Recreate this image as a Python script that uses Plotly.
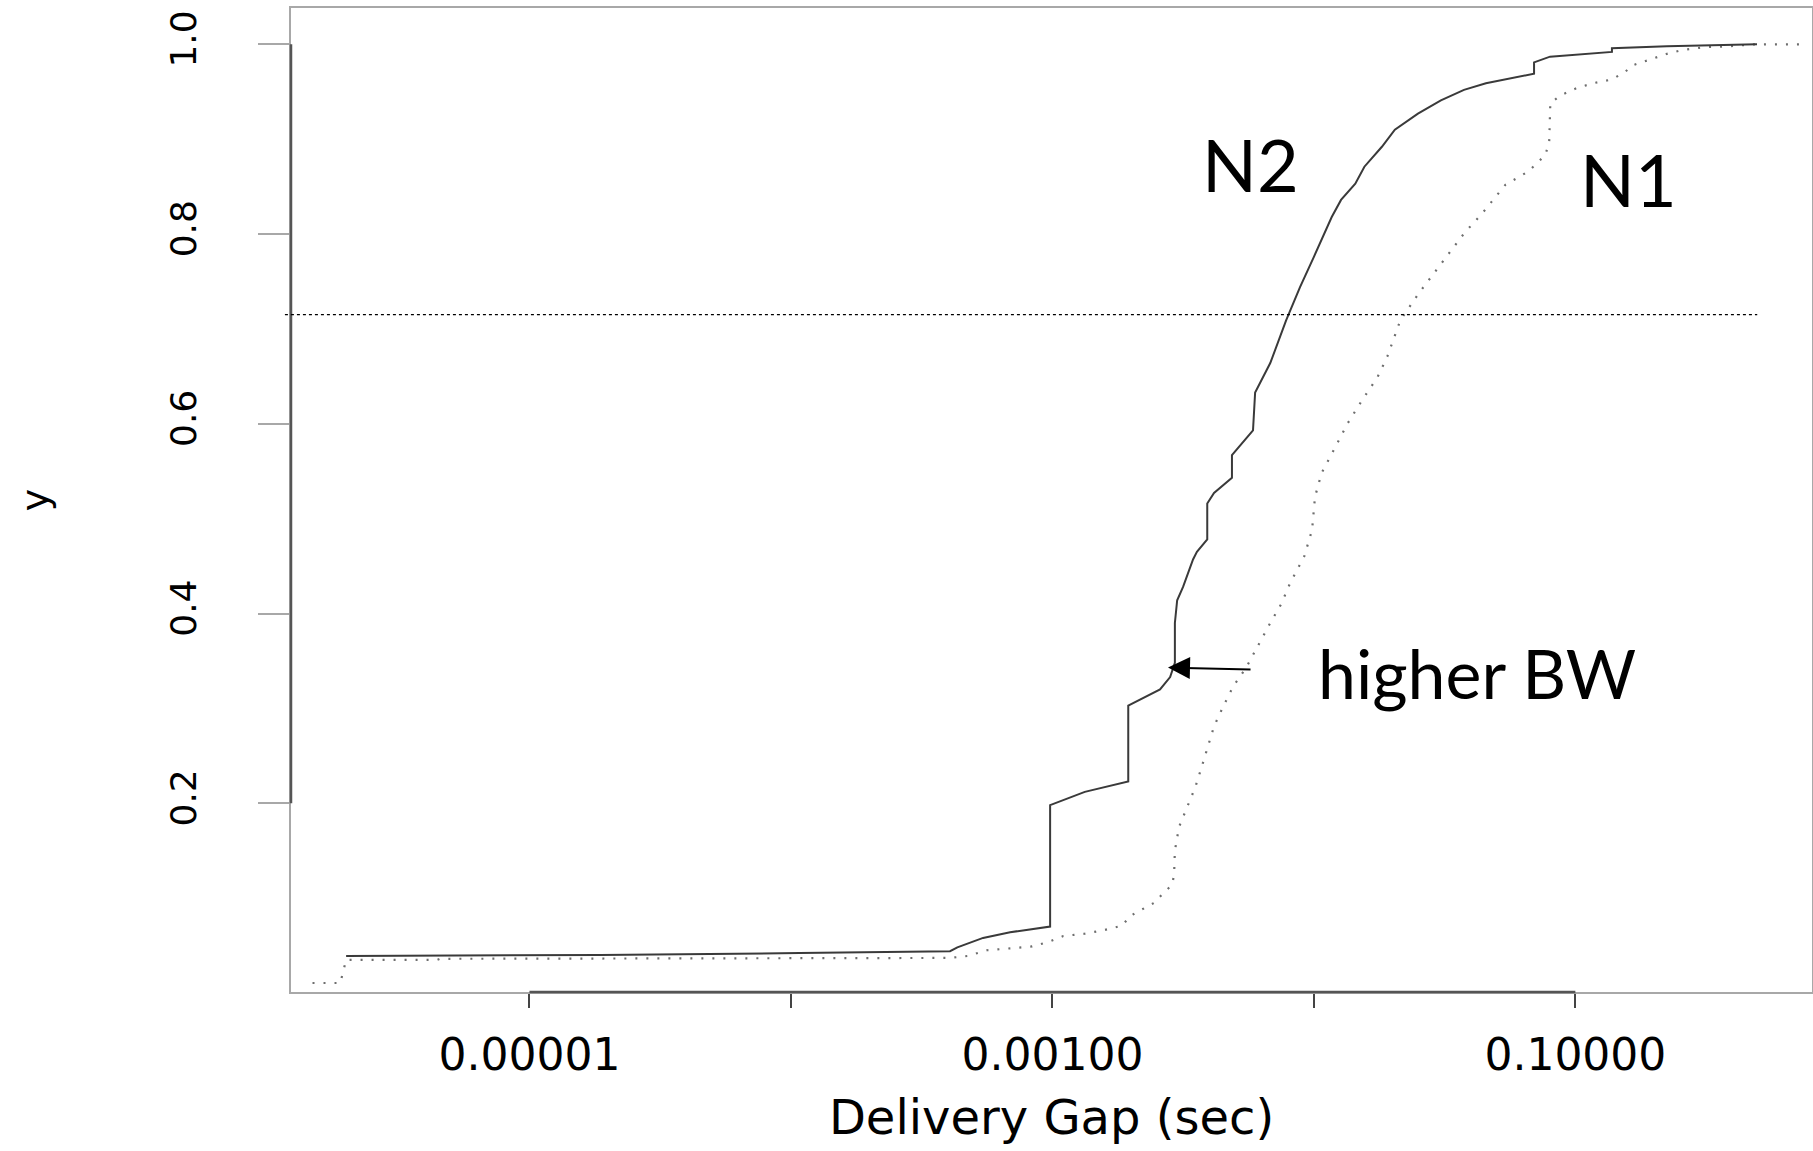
import numpy as np
import plotly.graph_objects as go

# ---------------- data ----------------
# N2 : solid curve, empirical CDF of delivery gap (seconds)
n2_gap = [1.99e-6, 1.86e-5, 1.08e-4, 4.06e-4, 4.33e-4, 5.43e-4, 6.89e-4, 9.8e-4,
          9.8e-4, 1.33e-3, 1.95e-3, 1.95e-3, 2.58e-3, 2.82e-3, 2.94e-3, 2.94e-3,
          3.00e-3, 3.16e-3, 3.45e-3, 3.57e-3, 3.91e-3, 3.91e-3, 4.15e-3, 4.86e-3,
          4.86e-3, 5.85e-3, 5.96e-3, 6.81e-3, 7.83e-3, 8.85e-3, 1.00e-2, 1.17e-2,
          1.27e-2, 1.44e-2, 1.56e-2, 1.82e-2, 2.04e-2, 2.50e-2, 3.06e-2, 3.75e-2,
          4.55e-2, 5.57e-2, 6.95e-2, 6.95e-2, 8.0e-2, 0.138, 0.138, 0.224, 0.495]
n2_cdf = [0.039, 0.040, 0.042, 0.044, 0.048, 0.058, 0.064, 0.070,
          0.198, 0.212, 0.223, 0.303, 0.320, 0.333, 0.348, 0.390,
          0.414, 0.428, 0.457, 0.465, 0.478, 0.516, 0.527, 0.543,
          0.567, 0.593, 0.633, 0.664, 0.709, 0.744, 0.776, 0.818,
          0.836, 0.853, 0.871, 0.892, 0.910, 0.927, 0.941, 0.952,
          0.959, 0.964, 0.969, 0.981, 0.987, 0.992, 0.996, 0.998, 1.0]

# N1 : dotted curve
n1_gap = [1.48e-6, 1.89e-6, 1.99e-6, 4.43e-6, 4.55e-6, 4.06e-4, 4.75e-4, 5.62e-4,
          6.89e-4, 8.36e-4, 9.70e-4, 1.10e-3, 1.33e-3, 1.56e-3, 1.85e-3, 1.98e-3,
          2.20e-3, 2.45e-3, 2.65e-3, 2.87e-3, 2.92e-3, 2.94e-3, 3.05e-3, 3.27e-3,
          3.52e-3, 3.73e-3, 3.94e-3, 4.15e-3, 4.50e-3, 4.91e-3, 5.51e-3, 6.12e-3,
          6.81e-3, 7.50e-3, 8.11e-3, 9.18e-3, 9.84e-3, 1.01e-2, 1.07e-2, 1.19e-2,
          1.35e-2, 1.53e-2, 1.75e-2, 1.91e-2, 2.14e-2, 2.51e-2, 3.07e-2, 3.76e-2,
          4.41e-2, 5.40e-2, 6.61e-2, 7.66e-2, 7.94e-2, 8.02e-2, 8.75e-2, 0.1014,
          0.117, 0.138, 0.155, 0.166, 0.193, 0.224, 0.256, 0.313, 0.391, 0.479, 0.743]
n1_cdf = [0.0105, 0.0105, 0.0348, 0.0348, 0.036, 0.0369, 0.039, 0.045,
          0.047, 0.049, 0.054, 0.060, 0.0625, 0.066, 0.071, 0.081,
          0.088, 0.095, 0.105, 0.114, 0.125, 0.150, 0.175, 0.196,
          0.217, 0.239, 0.260, 0.281, 0.302, 0.323, 0.343, 0.367,
          0.390, 0.410, 0.432, 0.460, 0.488, 0.523, 0.548, 0.572,
          0.601, 0.625, 0.649, 0.671, 0.709, 0.737, 0.769, 0.801,
          0.822, 0.852, 0.866, 0.883, 0.896, 0.938, 0.946, 0.954,
          0.959, 0.963, 0.971, 0.978, 0.984, 0.990, 0.994, 0.997, 0.998, 1.0, 1.0]

x_tick_vals = [1e-5, 1e-4, 1e-3, 1e-2, 1e-1]
x_tick_text = ["0.00001", "", "0.00100", "", "0.10000"]
y_tick_vals = [0.2, 0.4, 0.6, 0.8, 1.0]
y_tick_text = ["0.2", "0.4", "0.6", "0.8", "1.0"]

ref_level = 0.715          # horizontal dotted reference line

# annotation anchors (data space)
n2_label = (0.0057, 0.874)
n1_label = (0.159, 0.858)
bw_label = (0.0421, 0.338)
arrow_head = (0.002767, 0.343)
arrow_tail = (0.0058, 0.341)

# ---------------- figure ----------------
X_RANGE = [-5.912, -0.095]   # log10 units
Y_RANGE = [0.001, 1.0383]

fig = go.Figure()
fig.add_trace(go.Scatter(x=n1_gap, y=n1_cdf, mode="lines", name="N1",
                         line=dict(color="#6e6e6e", width=2.2, dash="2px,9px"),
                         showlegend=False, hoverinfo="skip"))
fig.add_trace(go.Scatter(x=n2_gap, y=n2_cdf, mode="lines", name="N2",
                         line=dict(color="#3a3a3a", width=2),
                         showlegend=False, hoverinfo="skip"))

def xpaper(v):
    return (np.log10(v) - X_RANGE[0]) / (X_RANGE[1] - X_RANGE[0])

def ypaper(v):
    return (v - Y_RANGE[0]) / (Y_RANGE[1] - Y_RANGE[0])

shapes = [
    # darker axis line along the labelled y range
    dict(type="line", xref="paper", yref="paper", x0=0, x1=0,
         y0=ypaper(min(y_tick_vals)), y1=ypaper(max(y_tick_vals)),
         line=dict(color="#555555", width=2.5), layer="above"),
    # darker axis line along the labelled x range
    dict(type="line", xref="paper", yref="paper", y0=0, y1=0,
         x0=xpaper(min(x_tick_vals)), x1=xpaper(max(x_tick_vals)),
         line=dict(color="#555555", width=2.5), layer="above"),
    # horizontal dotted reference line
    dict(type="line", xref="paper", yref="y", x0=-0.004, x1=0.964,
         y0=ref_level, y1=ref_level,
         line=dict(color="#000000", width=1.3, dash="dot")),
]

annotations = [
    dict(x=np.log10(n2_label[0]), y=n2_label[1], xref="x", yref="y", text="N2",
         showarrow=False, font=dict(family="Lato", size=72, color="black"),
         xanchor="center", yanchor="middle"),
    dict(x=np.log10(n1_label[0]), y=n1_label[1], xref="x", yref="y", text="N1",
         showarrow=False, font=dict(family="Lato", size=72, color="black"),
         xanchor="center", yanchor="middle"),
    dict(x=np.log10(bw_label[0]), y=bw_label[1], xref="x", yref="y", text="higher BW",
         showarrow=False, font=dict(family="Lato", size=68, color="black"),
         xanchor="center", yanchor="middle"),
    dict(x=np.log10(arrow_head[0]), y=arrow_head[1], xref="x", yref="y",
         ax=np.log10(arrow_tail[0]), ay=arrow_tail[1], axref="x", ayref="y",
         text="", showarrow=True, arrowhead=2, arrowsize=2.2, arrowwidth=2,
         arrowcolor="black"),
]

fig.update_layout(
    width=1813, height=1151,
    margin=dict(l=291, r=1, t=8, b=159, autoexpand=False),
    paper_bgcolor="white", plot_bgcolor="white",
    font=dict(family="DejaVu Sans", color="black"),
    shapes=shapes, annotations=annotations,
    xaxis=dict(
        type="log", range=X_RANGE, showgrid=False, zeroline=False,
        showline=True, mirror=True, linecolor="#a8a8a8", linewidth=2,
        ticks="outside", ticklen=14, tickwidth=2, tickcolor="#444444",
        tickvals=x_tick_vals, ticktext=x_tick_text,
        tickfont=dict(family="DejaVu Sans", size=44, color="black"),
        ticklabelstandoff=9,
        title=dict(text="Delivery Gap (sec)",
                   font=dict(family="DejaVu Sans", size=48, color="black"),
                   standoff=22),
    ),
    yaxis=dict(
        range=Y_RANGE, showgrid=False, zeroline=False,
        showline=True, mirror=True, linecolor="#a8a8a8", linewidth=2,
        ticks="outside", ticklen=31, tickwidth=2, tickcolor="#a8a8a8",
        tickvals=y_tick_vals, ticktext=y_tick_text, tickangle=-90,
        tickfont=dict(family="DejaVu Sans", size=36, color="black"),
        ticklabelstandoff=48,
        title=dict(text="y", font=dict(family="DejaVu Sans", size=38, color="black"),
                   standoff=102),
    ),
)

fig.write_html("out.html", include_plotlyjs=True, config={"displayModeBar": False})
